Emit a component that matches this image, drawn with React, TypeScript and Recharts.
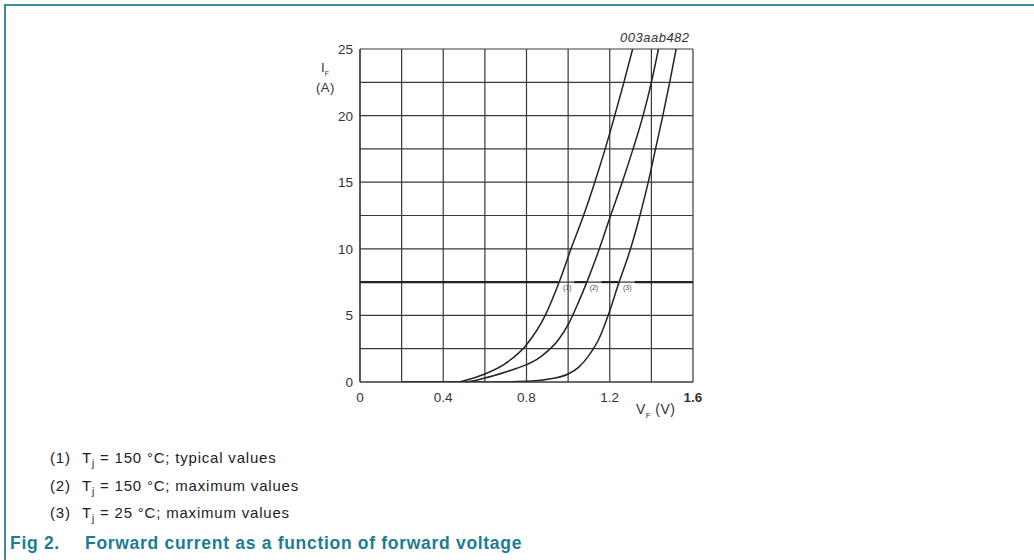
import { LineChart, Line, XAxis, YAxis, CartesianGrid, ReferenceLine, ReferenceDot } from 'recharts'

// forward voltage (V) / forward current (A)
const curve1V = [0.2, 0.47, 0.5, 0.6, 0.7, 0.8, 0.89, 0.957, 1.014, 1.074, 1.128, 1.178, 1.224, 1.268, 1.31]
const curve1I = [0, 0, 0.1, 0.6, 1.4, 2.8, 5, 7.5, 10, 12.5, 15, 17.5, 20, 22.5, 25]
const curve2V = [0.2, 0.5, 0.6, 0.7, 0.8, 0.85, 0.9, 0.95, 1.0, 1.05, 1.09, 1.15, 1.204, 1.26, 1.312, 1.36, 1.4, 1.434]
const curve2I = [0, 0, 0.3, 0.75, 1.3, 1.7, 2.3, 3.1, 4.3, 6.0, 7.5, 10, 12.5, 15, 17.5, 20, 22.5, 25]
const curve3V = [0.2, 0.65, 0.8, 0.9, 1.0, 1.05, 1.1, 1.15, 1.192, 1.245, 1.3, 1.345, 1.385, 1.42, 1.455, 1.488, 1.519]
const curve3I = [0, 0, 0.05, 0.2, 0.6, 1.1, 2.0, 3.3, 5, 7.5, 10, 12.5, 15, 17.5, 20, 22.5, 25]

const xTicks = [0, 0.2, 0.4, 0.6, 0.8, 1.0, 1.2, 1.4, 1.6]
const yTicks = [0, 2.5, 5, 7.5, 10, 12.5, 15, 17.5, 20, 22.5, 25]
const xLabels = ['0', '0.4', '0.8', '1.2', '1.6']
const yLabels = ['0', '5', '10', '15', '20', '25']

const refCurrent = 7.5
const refSegments = [[0, 0.953], [1.03, 1.085], [1.16, 1.24], [1.32, 1.6]]
const curveTags = ['(1)', '(2)', '(3)']
const tagVoltage = [0.996, 1.124, 1.284]

const legendRows = [
  { n: '(1)', t: '150', rest: 'typical values' },
  { n: '(2)', t: '150', rest: 'maximum values' },
  { n: '(3)', t: '25', rest: 'maximum values' },
]

const toPoints = (v: number[], i: number[]) => v.map((x, k) => ({ v: x, i: i[k] }))

const FONT = '"Liberation Sans", Arial, sans-serif'
const TEAL = '#1b7d8f'

const XTick = (props: any) => {
  const { x, y, payload } = props
  const r = Math.round(payload.value * 10) / 10
  const idx = xLabels.indexOf(String(r))
  if (idx < 0) return null
  return (
    <text x={x} y={y + 20} textAnchor="middle" fontSize={13.5} fill="#333" fontFamily={FONT}
      fontWeight={xLabels[idx] === '1.6' ? 700 : 400}>
      {xLabels[idx]}
    </text>
  )
}

const YTick = (props: any) => {
  const { x, y, payload } = props
  const label = String(payload.value)
  if (!yLabels.includes(label)) return null
  return (
    <text x={x - 7} y={y + 5} textAnchor="end" fontSize={13.5} fill="#333" fontFamily={FONT}>
      {label}
    </text>
  )
}

export default function App() {
  const series = [toPoints(curve1V, curve1I), toPoints(curve2V, curve2I), toPoints(curve3V, curve3I)]

  return (
    <div style={{ position: 'fixed', left: 0, top: 0, width: 1034, height: 560, background: '#fff', fontFamily: FONT, overflow: 'hidden' }}>
      <div style={{ position: 'absolute', left: 4, top: 4, width: 1030, height: 2, background: '#3d8d9e' }} />
      <div style={{ position: 'absolute', left: 4, top: 4, width: 2, height: 556, background: '#3d8d9e' }} />

      <div style={{ position: 'absolute', left: 0, top: 0 }}>
        <LineChart width={1034} height={560} margin={{ top: 49, right: 341, bottom: 148, left: 320 }}>
          <CartesianGrid stroke="#3a3a3a" strokeWidth={1.2} />
          <XAxis type="number" dataKey="v" domain={[0, 1.6]} ticks={xTicks} allowDataOverflow
            tickLine={false} tickSize={0} tickMargin={0} height={30} tick={<XTick />}
            axisLine={{ stroke: '#3a3a3a', strokeWidth: 1.2 }} interval={0} />
          <YAxis type="number" dataKey="i" domain={[0, 25]} ticks={yTicks} allowDataOverflow
            tickLine={false} tickSize={0} tickMargin={0} width={40} tick={<YTick />}
            axisLine={{ stroke: '#3a3a3a', strokeWidth: 1.2 }} interval={0} />
          {refSegments.map((s, k) => (
            <ReferenceLine key={k} segment={[{ x: s[0], y: refCurrent }, { x: s[1], y: refCurrent }]}
              stroke="#222" strokeWidth={2.2} />
          ))}
          {series.map((d, k) => (
            <Line key={k} data={d} dataKey="i" type="monotone" stroke="#222" strokeWidth={1.5}
              dot={false} isAnimationActive={false} />
          ))}
          {curveTags.map((t, k) => (
            <ReferenceDot key={t} x={tagVoltage[k]} y={refCurrent} r={0}
              shape={(p: any) => (
                <text x={p.cx} y={p.cy + 8} textAnchor="middle" fontSize={7} fill="#444" fontFamily={FONT}>{t}</text>
              )} />
          ))}
        </LineChart>
      </div>

      <div style={{ position: 'absolute', left: 321, top: 60, fontSize: 13, color: '#333' }}>
        I<sub style={{ fontSize: 7 }}>F</sub>
      </div>
      <div style={{ position: 'absolute', left: 316, top: 80, fontSize: 13, color: '#333', letterSpacing: 0.5 }}>(A)</div>
      <div style={{ position: 'absolute', left: 636, top: 401, fontSize: 14, color: '#333', letterSpacing: 0.4 }}>
        V<sub style={{ fontSize: 8 }}>F</sub> (V)
      </div>
      <div style={{ position: 'absolute', left: 620, top: 30, fontSize: 13, fontStyle: 'italic', color: '#333', letterSpacing: 0.5 }}>003aab482</div>

      {legendRows.map((r, k) => (
        <div key={r.n} style={{ position: 'absolute', left: 50, top: 449 + k * 27.5, fontSize: 15, color: '#222', whiteSpace: 'nowrap', letterSpacing: 0.8 }}>
          <span style={{ display: 'inline-block', width: 32 }}>{r.n}</span>
          T<sub style={{ fontSize: 10 }}>j</sub> = {r.t} °C; {r.rest}
        </div>
      ))}
      <div style={{ position: 'absolute', left: 10, top: 533, fontSize: 17.5, fontWeight: 700, color: TEAL, whiteSpace: 'nowrap', letterSpacing: 0.7 }}>
        <span style={{ display: 'inline-block', width: 75, letterSpacing: 0.7 }}>Fig 2.</span>Forward current as a function of forward voltage
      </div>
    </div>
  )
}
